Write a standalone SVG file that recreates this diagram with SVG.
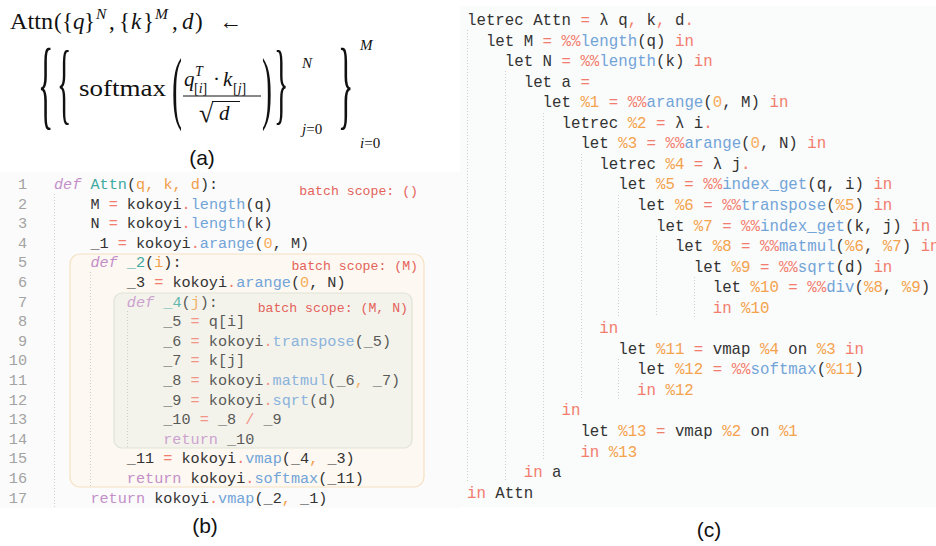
<svg xmlns="http://www.w3.org/2000/svg" width="936" height="546" viewBox="0 0 936 546">
<style>
.m{font-family:"Liberation Serif",serif;fill:#111}
.it{font-style:italic}
.lab{font-family:"Liberation Sans",Arial,sans-serif;font-size:21px;fill:#111}
.cb{font-family:"Liberation Mono","DejaVu Sans Mono",monospace;font-size:15.2px;fill:#333}
.cc{font-family:"Liberation Mono","DejaVu Sans Mono",monospace;font-size:15.75px;fill:#333}
.ln{font-family:"Liberation Mono","DejaVu Sans Mono",monospace;font-size:15.2px;fill:#a3a3a3;text-anchor:end}
.bs{font-family:"Liberation Mono","DejaVu Sans Mono",monospace;font-size:13.2px;fill:#e4625a;text-anchor:end}
.kw{fill:#c48fc9;font-style:italic}
.rt{fill:#c48fc9}
.fd{fill:#3ea9a0}
.pa{fill:#f0a04a}
.op{fill:#f27d6e}
.me{fill:#72a4d8}
.nu{fill:#f6ad5a}
.v{fill:#f4a24c}
.gd{stroke:#cfcfcf;stroke-width:1;stroke-dasharray:1 2;fill:none}
</style>

<g id="panel-a">
  <text class="m" x="10" y="29" font-size="23" textLength="43" lengthAdjust="spacingAndGlyphs">Attn</text>
  <text class="m" x="54" y="29" font-size="23">(</text>
  <text class="m" x="62" y="29" font-size="23">{</text>
  <text class="m it" x="73" y="29" font-size="23">q</text>
  <text class="m" x="84" y="29" font-size="23">}</text>
  <text class="m it" x="96" y="19" font-size="15.5">N</text>
  <text class="m" x="109" y="29" font-size="23">,</text>
  <text class="m" x="119" y="29" font-size="23">{</text>
  <text class="m it" x="131" y="29" font-size="23">k</text>
  <text class="m" x="143" y="29" font-size="23">}</text>
  <text class="m it" x="155" y="19" font-size="15.5">M</text>
  <text class="m" x="172" y="29" font-size="23">,</text>
  <text class="m it" x="182" y="29" font-size="23">d</text>
  <text class="m" x="195" y="29" font-size="23">)</text>
  <text class="m" x="219" y="29" font-size="23">←</text>

  <text class="m" font-size="32" transform="translate(38,117) scale(1,3.1)">{</text>
  <text class="m" font-size="30" transform="translate(57,113.4) scale(1,3.05)">{</text>
  <text class="m" x="79" y="96" font-size="23.5" textLength="87" lengthAdjust="spacingAndGlyphs">softmax</text>
  <text class="m" font-size="30" transform="translate(172,113.6) scale(1,2.65)">(</text>
  <text class="m it" x="184" y="86" font-size="21">q</text>
  <text class="m it" x="195" y="76" font-size="14">T</text>
  <text class="m" x="194" y="93" font-size="14">[<tspan class="it">i</tspan>]</text>
  <text class="m" x="213" y="86" font-size="21">·</text>
  <text class="m it" x="223" y="86" font-size="21">k</text>
  <text class="m" x="233" y="93" font-size="14">[<tspan class="it">j</tspan>]</text>
  <line x1="183" y1="96" x2="261" y2="96" stroke="#111" stroke-width="1"/>
  <text class="m" x="199" y="122" font-size="26">√</text>
  <line x1="212" y1="101.5" x2="240" y2="101.5" stroke="#111" stroke-width="1"/>
  <text class="m it" x="219" y="120" font-size="21">d</text>
  <text class="m" font-size="30" transform="translate(262,113.6) scale(1,2.65)">)</text>
  <text class="m" font-size="30" transform="translate(274,113.4) scale(1,3.05)">}</text>
  <text class="m it" x="302" y="68" font-size="15">N</text>
  <text class="m" x="302" y="134" font-size="15"><tspan class="it">j</tspan>=0</text>
  <text class="m" font-size="32" transform="translate(338,117) scale(1,3.1)">}</text>
  <text class="m it" x="360" y="50" font-size="15">M</text>
  <text class="m" x="360" y="148" font-size="15"><tspan class="it">i</tspan>=0</text>
  <text class="lab" x="202" y="165" text-anchor="middle">(a)</text>
</g>

<g id="panel-b">
  <rect x="0" y="172" width="460" height="336" fill="#fbfbfb"/>
  <g id="scope-M">
    <rect x="70" y="254" width="354" height="233" rx="10" fill="#fdf8f1" stroke="#f6e1c3" stroke-width="1.2"/>
    <text class="bs" x="418" y="270">batch scope: (M)</text>
  </g>
  <g id="scope-MN">
    <rect x="114" y="293" width="298" height="155" rx="8" fill="#f3f3ec" stroke="#dfe3d6" stroke-width="1.2"/>
    <text class="bs" x="408" y="312">batch scope: (M, N)</text>
  </g>
  <g id="scope-root">
    <text class="bs" x="418" y="195">batch scope: ()</text>
  </g>
  <g id="guides-b">
    <line class="gd" x1="54.5" y1="194" x2="54.5" y2="507"/>
    <line class="gd" x1="90.5" y1="272" x2="90.5" y2="487"/>
    <line class="gd" x1="127.5" y1="311" x2="127.5" y2="448"/>
  </g>
  <g id="linenos">
    <text class="ln" x="27" y="189">1</text>
    <text class="ln" x="27" y="208.6">2</text>
    <text class="ln" x="27" y="228.2">3</text>
    <text class="ln" x="27" y="247.8">4</text>
    <text class="ln" x="27" y="267.4">5</text>
    <text class="ln" x="27" y="287">6</text>
    <text class="ln" x="27" y="306.6">7</text>
    <text class="ln" x="27" y="326.2">8</text>
    <text class="ln" x="27" y="345.8">9</text>
    <text class="ln" x="27" y="365.4">10</text>
    <text class="ln" x="27" y="385">11</text>
    <text class="ln" x="27" y="404.6">12</text>
    <text class="ln" x="27" y="424.2">13</text>
    <text class="ln" x="27" y="443.8">14</text>
    <text class="ln" x="27" y="463.4">15</text>
    <text class="ln" x="27" y="483">16</text>
    <text class="ln" x="27" y="502.6">17</text>
  </g>
  <g id="code-b">
    <text class="cb" x="54" y="189"><tspan class="kw">def</tspan> <tspan class="fd">Attn</tspan>(<tspan class="pa">q</tspan><tspan class="pa">,</tspan> <tspan class="pa">k</tspan><tspan class="pa">,</tspan> <tspan class="pa">d</tspan>):</text>
    <text class="cb" x="90.4" y="208.6">M <tspan class="op">=</tspan> kokoyi<tspan class="op">.</tspan><tspan class="me">length</tspan>(q)</text>
    <text class="cb" x="90.4" y="228.2">N <tspan class="op">=</tspan> kokoyi<tspan class="op">.</tspan><tspan class="me">length</tspan>(k)</text>
    <text class="cb" x="90.4" y="247.8">_1 <tspan class="op">=</tspan> kokoyi<tspan class="op">.</tspan><tspan class="me">arange</tspan>(<tspan class="nu">0</tspan>, M)</text>
    <text class="cb" x="90.4" y="267.4"><tspan class="kw">def</tspan> <tspan class="fd">_2</tspan>(<tspan class="pa">i</tspan>):</text>
    <text class="cb" x="126.8" y="287">_3 <tspan class="op">=</tspan> kokoyi<tspan class="op">.</tspan><tspan class="me">arange</tspan>(<tspan class="nu">0</tspan>, N)</text>
    <g opacity="0.8">
    <text class="cb" x="126.8" y="306.6"><tspan class="kw">def</tspan> <tspan class="fd">_4</tspan>(<tspan class="pa">j</tspan>):</text>
    <text class="cb" x="163.2" y="326.2">_5 <tspan class="op">=</tspan> q[i]</text>
    <text class="cb" x="163.2" y="345.8">_6 <tspan class="op">=</tspan> kokoyi<tspan class="op">.</tspan><tspan class="me">transpose</tspan>(_5)</text>
    <text class="cb" x="163.2" y="365.4">_7 <tspan class="op">=</tspan> k[j]</text>
    <text class="cb" x="163.2" y="385">_8 <tspan class="op">=</tspan> kokoyi<tspan class="op">.</tspan><tspan class="me">matmul</tspan>(_6<tspan class="pa">,</tspan> _7)</text>
    <text class="cb" x="163.2" y="404.6">_9 <tspan class="op">=</tspan> kokoyi<tspan class="op">.</tspan><tspan class="me">sqrt</tspan>(d)</text>
    <text class="cb" x="163.2" y="424.2">_10 <tspan class="op">=</tspan> _8 <tspan class="op">/</tspan> _9</text>
    <text class="cb" x="163.2" y="443.8"><tspan class="rt">return</tspan> _10</text>
    </g>
    <text class="cb" x="126.8" y="463.4">_11 <tspan class="op">=</tspan> kokoyi<tspan class="op">.</tspan><tspan class="me">vmap</tspan>(_4<tspan class="pa">,</tspan> _3)</text>
    <text class="cb" x="126.8" y="483"><tspan class="rt">return</tspan> kokoyi<tspan class="op">.</tspan><tspan class="me">softmax</tspan>(_11)</text>
    <text class="cb" x="90.4" y="502.6"><tspan class="rt">return</tspan> kokoyi<tspan class="op">.</tspan><tspan class="me">vmap</tspan>(_2<tspan class="pa">,</tspan> _1)</text>
  </g>
  <text class="lab" x="205" y="533" text-anchor="middle">(b)</text>
</g>

<g id="panel-c">
  <rect x="460" y="6" width="476" height="501" fill="#fafbfb"/>
  <g id="guides-c">
    <line class="gd" x1="467.5" y1="30" x2="467.5" y2="482"/>
    <line class="gd" x1="505.5" y1="71" x2="505.5" y2="482"/>
    <line class="gd" x1="543.5" y1="113" x2="543.5" y2="461"/>
    <line class="gd" x1="581.5" y1="154" x2="581.5" y2="400"/>
    <line class="gd" x1="618.5" y1="195" x2="618.5" y2="317"/>
    <line class="gd" x1="618.5" y1="359" x2="618.5" y2="400"/>
    <line class="gd" x1="656.5" y1="236" x2="656.5" y2="317"/>
    <line class="gd" x1="694.5" y1="277" x2="694.5" y2="317"/>
  </g>
  <g id="code-c">
    <text class="cc" x="467" y="25">letrec Attn <tspan class="op">=</tspan> λ q<tspan class="op">,</tspan> k<tspan class="op">,</tspan> d<tspan class="op">.</tspan></text>
    <text class="cc" x="485.9" y="45.55">let M <tspan class="op">=</tspan> <tspan class="op">%%</tspan><tspan class="me">length</tspan>(q) <tspan class="op">in</tspan></text>
    <text class="cc" x="504.8" y="66.1">let N <tspan class="op">=</tspan> <tspan class="op">%%</tspan><tspan class="me">length</tspan>(k) <tspan class="op">in</tspan></text>
    <text class="cc" x="523.7" y="86.65">let a <tspan class="op">=</tspan></text>
    <text class="cc" x="542.6" y="107.2">let <tspan class="v">%1</tspan> <tspan class="op">=</tspan> <tspan class="op">%%</tspan><tspan class="me">arange</tspan>(<tspan class="nu">0</tspan>, M) <tspan class="op">in</tspan></text>
    <text class="cc" x="561.5" y="127.75">letrec <tspan class="v">%2</tspan> <tspan class="op">=</tspan> λ i<tspan class="op">.</tspan></text>
    <text class="cc" x="580.4" y="148.3">let <tspan class="v">%3</tspan> <tspan class="op">=</tspan> <tspan class="op">%%</tspan><tspan class="me">arange</tspan>(<tspan class="nu">0</tspan>, N) <tspan class="op">in</tspan></text>
    <text class="cc" x="599.3" y="168.85">letrec <tspan class="v">%4</tspan> <tspan class="op">=</tspan> λ j<tspan class="op">.</tspan></text>
    <text class="cc" x="618.2" y="189.4">let <tspan class="v">%5</tspan> <tspan class="op">=</tspan> <tspan class="op">%%</tspan><tspan class="me">index_get</tspan>(q, i) <tspan class="op">in</tspan></text>
    <text class="cc" x="637.1" y="209.95">let <tspan class="v">%6</tspan> <tspan class="op">=</tspan> <tspan class="op">%%</tspan><tspan class="me">transpose</tspan>(<tspan class="v">%5</tspan>) <tspan class="op">in</tspan></text>
    <text class="cc" x="656" y="230.5">let <tspan class="v">%7</tspan> <tspan class="op">=</tspan> <tspan class="op">%%</tspan><tspan class="me">index_get</tspan>(k, j) <tspan class="op">in</tspan></text>
    <text class="cc" x="674.9" y="251.05">let <tspan class="v">%8</tspan> <tspan class="op">=</tspan> <tspan class="op">%%</tspan><tspan class="me">matmul</tspan>(<tspan class="v">%6</tspan>, <tspan class="v">%7</tspan>) <tspan class="op">in</tspan></text>
    <text class="cc" x="693.8" y="271.6">let <tspan class="v">%9</tspan> <tspan class="op">=</tspan> <tspan class="op">%%</tspan><tspan class="me">sqrt</tspan>(d) <tspan class="op">in</tspan></text>
    <text class="cc" x="712.7" y="292.15">let <tspan class="v">%10</tspan> <tspan class="op">=</tspan> <tspan class="op">%%</tspan><tspan class="me">div</tspan>(<tspan class="v">%8</tspan>, <tspan class="v">%9</tspan>)</text>
    <text class="cc" x="712.7" y="312.7"><tspan class="op">in</tspan> <tspan class="v">%10</tspan></text>
    <text class="cc" x="599.3" y="333.25"><tspan class="op">in</tspan></text>
    <text class="cc" x="618.2" y="353.8">let <tspan class="v">%11</tspan> <tspan class="op">=</tspan> vmap <tspan class="v">%4</tspan> on <tspan class="v">%3</tspan> <tspan class="op">in</tspan></text>
    <text class="cc" x="637.1" y="374.35">let <tspan class="v">%12</tspan> <tspan class="op">=</tspan> <tspan class="op">%%</tspan><tspan class="me">softmax</tspan>(<tspan class="v">%11</tspan>)</text>
    <text class="cc" x="637.1" y="394.9"><tspan class="op">in</tspan> <tspan class="v">%12</tspan></text>
    <text class="cc" x="561.5" y="415.45"><tspan class="op">in</tspan></text>
    <text class="cc" x="580.4" y="436">let <tspan class="v">%13</tspan> <tspan class="op">=</tspan> vmap <tspan class="v">%2</tspan> on <tspan class="v">%1</tspan></text>
    <text class="cc" x="580.4" y="456.55"><tspan class="op">in</tspan> <tspan class="v">%13</tspan></text>
    <text class="cc" x="523.7" y="477.1"><tspan class="op">in</tspan> a</text>
    <text class="cc" x="467" y="497.65"><tspan class="op">in</tspan> Attn</text>
  </g>
  <text class="lab" x="709" y="537" text-anchor="middle">(c)</text>
</g>
</svg>
